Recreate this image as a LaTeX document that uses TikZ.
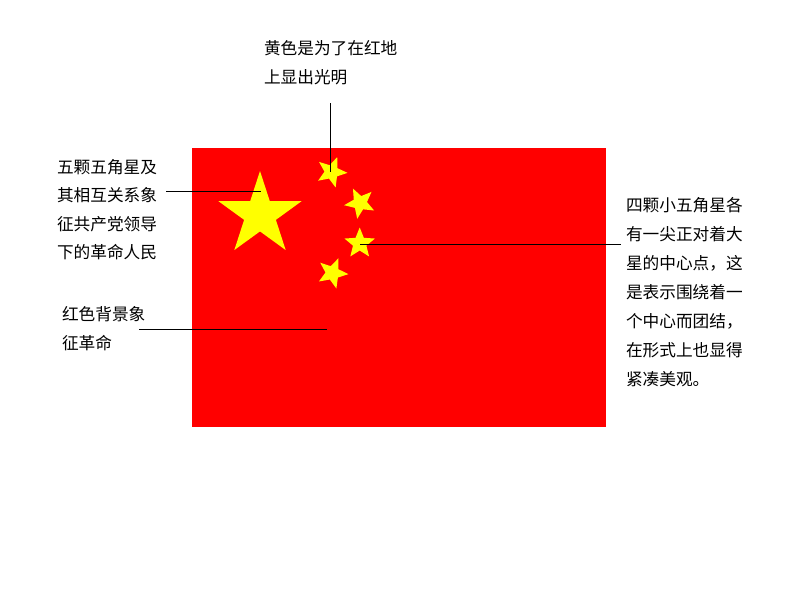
\documentclass[tikz,border=0pt]{standalone}
\usepackage{fontspec}
\setmainfont{Noto Sans CJK SC}
\definecolor{flagred}{RGB}{255,0,0}
\definecolor{staryellow}{RGB}{255,255,0}
\tikzset{
  px/.style={x=0.75pt,y=-0.75pt},
  note/.style={anchor=west,inner sep=0pt,outer sep=0pt,align=left,text=black,font=\fontsize{12.5}{#1}\selectfont},
  leader/.style={draw=black,line width=0.85pt},
  pics/flagstar/.style n args={3}{code={
    \fill[staryellow,rotate=#2]
      (-90:#1) -- (-54:#3*#1) -- (-18:#1) -- (18:#3*#1) -- (54:#1)
      -- (90:#3*#1) -- (126:#1) -- (162:#3*#1) -- (198:#1) -- (234:#3*#1) -- cycle;
  }}
}
\begin{document}
\begin{tikzpicture}[px]
\useasboundingbox (0,0) rectangle (794,596);
\node[fill=flagred,inner sep=0pt,outer sep=0pt,minimum width=309.9pt,minimum height=209.25pt,anchor=north west] (flag) at (192.3,147.8) {};
\pic at (260,214.7) {flagstar={43.7}{0}{0.382}};
\pic at (331.5,172) {flagstar={16}{-21}{0.44}};
\pic at (360,203) {flagstar={16}{26}{0.44}};
\pic at (359.7,243.5) {flagstar={16}{0}{0.44}};
\pic at (332.5,273) {flagstar={16}{-22}{0.44}};
\node[note=21.6pt] (top) at (264,62.5) {黄色是为了在红地\\上显出光明};
\node[note=21.4pt] (left) at (57,209.5) {五颗五角星及\\其相互关系象\\征共产党领导\\下的革命人民};
\node[note=21.6pt] (red) at (62,328.5) {红色背景象\\征革命};
\node[note=21.7pt] (right) at (626,292) {四颗小五角星各\\有一尖正对着大\\星的中心点，这\\是表示围绕着一\\个中心而团结，\\在形式上也显得\\紧凑美观。};
\coordinate (a1) at (330.5,103); \coordinate (a2) at (330.5,172);
\coordinate (b1) at (166,191.5); \coordinate (b2) at (261,191.5);
\coordinate (c1) at (139,329.5); \coordinate (c2) at (327,329.5);
\coordinate (d1) at (620.5,244.5); \coordinate (d2) at (360,244.5);
\draw[leader] (a1) -- (a2);
\draw[leader] (b1) -- (b2);
\draw[leader] (c1) -- (c2);
\draw[leader] (d1) -- (d2);
\end{tikzpicture}
\end{document}
